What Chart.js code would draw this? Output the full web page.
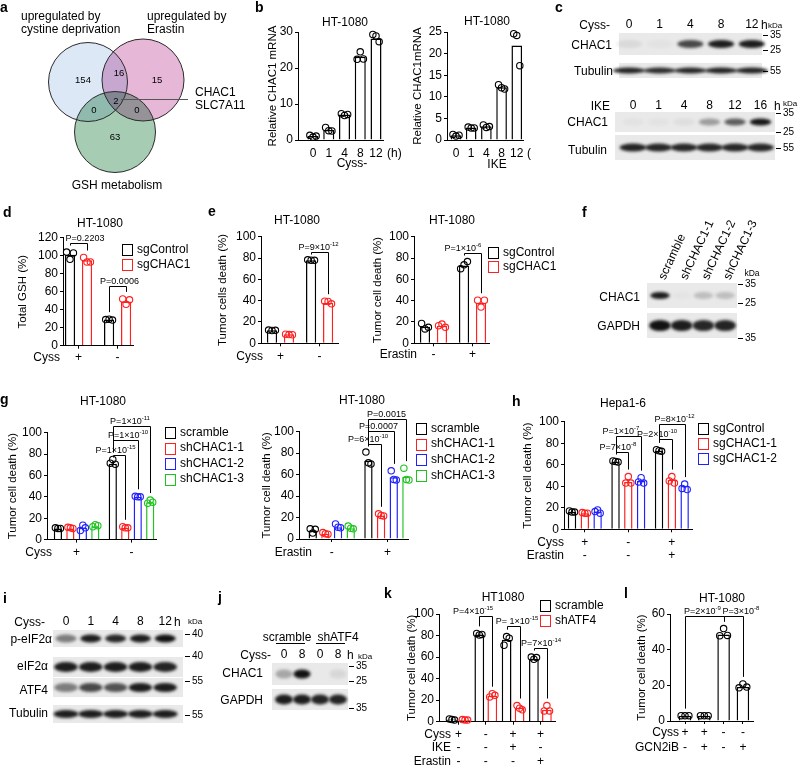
<!DOCTYPE html>
<html>
<head>
<meta charset="utf-8">
<title>CHAC1 figure</title>
<script src="https://cdn.jsdelivr.net/npm/chart.js@4.4.1/dist/chart.umd.min.js"></script>
<style>
  body { margin: 0; background: #fff; }
  #fig { position: relative; width: 800px; height: 767px; overflow: hidden; background: #fff;
         font-family: Arial, "Liberation Sans", Helvetica, sans-serif; color: #000; }
  #fig canvas { position: absolute; }
  .t { position: absolute; white-space: nowrap; }
  .box { position: absolute; box-sizing: border-box; border: 1.5px solid #000; background: #fff; }
  .dash { position: absolute; height: 1px; background: #000; }
</style>
</head>
<body>
<div id="fig"></div>
<script>
// ---------- data ----------
// a: Venn
const vennSetNames = [['upregulated by', 'cystine deprivation'], ['upregulated by', 'Erastin'], ['GSH metabolism']];
const vennCounts = [154, 16, 15, 2, 0, 0, 63]; // A, AB, B, ABC, AC, BC, C
const vennShared = ['CHAC1', 'SLC7A11'];

// b: relative CHAC1 mRNA
const bTimes = ['0', '1', '4', '8', '12'];
const bCyssMean = [1.1, 2.8, 7.1, 23.1, 28.2];
const bCyssReps = [[1.3, 0.8, 1.1], [3.5, 2.6, 2.5], [7.3, 6.8, 7.1], [22.4, 24.5, 22.5], [29.3, 28.9, 27.3]];
const bIkeMean = [1.1, 2.9, 3.2, 12.2, 21.9];
const bIkeReps = [[1.3, 0.9, 1.1], [3.0, 2.8, 2.8], [3.5, 2.9, 3.1], [12.8, 12.1, 11.8], [24.6, 24.2, 17.2]];

// d: total GSH
const sgSeries = ['sgControl', 'sgCHAC1'];
const dCyss = ['+', '-'];
const dMean = [[101, 29], [95, 49]];
const dReps = [[[104, 96, 103], [29, 29.5, 28.5]], [[98, 93, 93], [52, 46, 51]]];
const dPairs = [[0, 1, 'P=0.2203'], [2, 3, 'P=0.0006']];

// e: tumor cell death, sgCHAC1
const eCyss = ['+', '-'];
const eCyssMean = [[12.2, 78], [8.4, 38]];
const eCyssReps = [[[12.4, 12.0, 12.2], [78.3, 78.0, 77.8]], [[8.6, 8.2, 8.0], [39.5, 39.2, 37.0]]];
const eCyssPairs = [[2, 3, 'P=9\u00d710', '-12']];
const eErastin = ['-', '+'];
const eErasMean = [[15.5, 73], [16.5, 38]];
const eErasReps = [[[18.6, 13.5, 15.0], [70.0, 73.6, 76.7]], [[16.5, 18.0, 15.0], [40.4, 34.0, 40.4]]];
const eErasPairs = [[2, 3, 'P=1\u00d710', '-6']];

// f: blot
const fLanes = ['scramble', 'shCHAC1-1', 'shCHAC1-2', 'shCHAC1-3'];
const fChac1 = [0.95, 0.02, 0.2, 0.2];
const fGapdh = [1.0, 0.95, 0.9, 0.92];

// g: shCHAC1
const shSeries = ['scramble', 'shCHAC1-1', 'shCHAC1-2', 'shCHAC1-3'];
const gCyss = ['+', '-'];
const gCyssMean = [[10.5, 71], [10.5, 11], [11, 40], [12.5, 35]];
const gCyssReps = [[[11, 10.5, 10.5], [71.5, 75, 70.5]], [[11.5, 11, 10.5], [12, 11, 11]],
                   [[8.5, 13.5, 11], [40.5, 40, 40]], [[12, 14, 13], [34, 37, 35]]];
const gCyssPairs = [[4, 5, 'P=1\u00d710', '-15'], [4, 6, 'P=1\u00d710', '-10'], [4, 7, 'P=1\u00d710', '-11']];
const gErastin = ['-', '+'];
const gErasMean = [[8, 73], [5, 22], [11, 57.5], [10, 58]];
const gErasReps = [[[9.5, 5.5, 9], [81, 71, 70]], [[6, 5, 4.5], [23.5, 22, 21.5]],
                   [[14, 11, 10.5], [63.5, 55.5, 55]], [[12, 10, 9.5], [66, 55.5, 55]]];
const gErasPairs = [[4, 5, 'P=6\u00d710', '-10'], [4, 6, 'P=0.0007'], [4, 7, 'P=0.0015']];

// h: Hepa1-6
const hSeries = ['sgControl', 'sgCHAC1-1', 'sgCHAC1-2'];
const hCyss = ['+', '-', '+'];
const hErastin = ['-', '-', '+'];
const hMean = [[16, 63, 73], [15, 44, 46], [16.5, 45, 40.5]];
const hReps = [[[17, 16, 16], [63.5, 63, 62.5], [74, 73, 72.5]],
               [[15.5, 15, 15], [43, 49, 43], [45, 49, 43]],
               [[16.5, 18, 15], [44, 48, 43], [38, 42, 37]]];
const hPairs = [[3, 4, 'P=7\u00d710', '-8'], [3, 5, 'P=1\u00d710', '-7'], [6, 7, 'P=2\u00d710', '-10'], [6, 8, 'P=8\u00d710', '-12']];

// c, i, j: blots (band intensity 0..1)
const cCyssLanes = ['0', '1', '4', '8', '12'];
const cCyssChac1 = [0.07, 0.03, 0.75, 0.95, 0.95];
const cCyssTubulin = [0.92, 0.88, 0.9, 0.92, 0.92];
const cIkeLanes = ['0', '1', '4', '8', '12', '16'];
const cIkeChac1 = [0.03, 0.03, 0.05, 0.35, 0.65, 0.98];
const cIkeTubulin = [0.92, 0.9, 0.9, 0.9, 0.9, 0.9];
const iLanes = ['0', '1', '4', '8', '12'];
const iPeif2a = [0.5, 0.95, 0.9, 0.95, 1.0];
const iEif2a = [0.95, 0.95, 0.95, 0.95, 0.92];
const iAtf4 = [0.5, 0.75, 0.7, 0.95, 0.95];
const iTubulin = [0.95, 0.95, 0.95, 0.95, 0.95];
const jGroups = ['scramble', 'shATF4'];
const jLanes = ['0', '8', '0', '8'];
const jChac1 = [0.3, 1.0, 0.0, 0.08];
const jGapdh = [0.95, 0.95, 0.92, 0.92];

// k: shATF4
const kSeries = ['scramble', 'shATF4'];
const kCyss = ['+', '-', '+', '+'];
const kIke = ['-', '-', '+', '-'];
const kErastin = ['-', '-', '-', '+'];
const kMean = [[2, 81, 76, 58.5], [1.5, 24, 13, 11]];
const kReps = [[[2.6, 2, 1.5], [82, 80.5, 81], [71, 79, 77.5], [60, 58, 59.5]],
               [[2, 1.5, 1.5], [23, 26, 24.5], [15, 12.5, 11], [10, 15, 10]]];
const kPairs = [[2, 3, 'P=4\u00d710', '-15'], [4, 5, 'P= 1\u00d710', '-15'], [6, 7, 'P=7\u00d710', '-14']];

// l: GCN2iB
const lCyss = ['+', '+', '-', '-'];
const lGcn2ib = ['-', '+', '-', '+'];
const lMean = [3, 3, 48.5, 19];
const lReps = [[3, 3, 3], [3, 3, 3], [47.8, 51.8, 48], [18.6, 20.8, 19]];
const lPairs = [[0, 2, 'P=2\u00d710', '-9'], [2, 3, 'P=3\u00d710', '-8']];

// ---------- helpers ----------
const FONT = 'Arial, "Liberation Sans", Helvetica, sans-serif';
const BLACK = '#000000', RED = '#ff2020', BLUE = '#2020ff', GREEN = '#1ec31e';
Chart.defaults.font.family = FONT;
Chart.defaults.color = BLACK;

const fig = document.getElementById('fig');

function txt(x, y, s, o = {}) {
  const size = o.size || 12;
  const d = document.createElement('div');
  d.className = 't';
  d.textContent = s;
  d.style.fontSize = size + 'px';
  d.style.lineHeight = size + 'px';
  if (o.bold) d.style.fontWeight = 'bold';
  d.style.left = x + 'px';
  d.style.top = (o.base ? y - 0.85 * size : y - 0.53 * size) + 'px';
  const a = o.align || 'l';
  if (a === 'c') d.style.transform = 'translateX(-50%)';
  if (a === 'r') d.style.transform = 'translateX(-100%)';
  fig.appendChild(d);
  return d;
}

function dash(x, y, w) {
  const d = document.createElement('div');
  d.className = 'dash';
  d.style.left = x + 'px'; d.style.top = y + 'px'; d.style.width = w + 'px';
  fig.appendChild(d);
}

function marker(x, y, s) { dash(x, Math.round(y), 5); txt(x + 7, y, s, { size: 10 }); }

function legend(x, y0, step, names, colors) {
  names.forEach((n, i) => {
    const y = y0 + i * step;
    const b = document.createElement('div');
    b.className = 'box';
    b.style.left = x + 'px'; b.style.top = (y - 5) + 'px';
    b.style.width = '11px'; b.style.height = '12px';
    b.style.borderColor = colors[i];
    fig.appendChild(b);
    txt(x + 15, y, n);
  });
}

function mkCanvas(x, y, w, h) {
  const c = document.createElement('canvas');
  c.width = w; c.height = h;
  c.style.left = x + 'px'; c.style.top = y + 'px';
  c.style.width = w + 'px'; c.style.height = h + 'px';
  fig.appendChild(c);
  return c;
}

// bar chart with replicate dots, brackets and condition rows
function barPanel(p) {
  const ns = p.mean.length, ng = p.mean[0].length, step = p.groupStep || 1;
  const bars = [], barCol = [], pts = [], ptCol = [], tops = [];
  for (let g = 0; g < ng; g++) {
    for (let s = 0; s < ns; s++) {
      const x = g * step + s, r = p.reps[s][g];
      bars.push({ x: x, y: p.mean[s][g] });
      barCol.push(p.colors[s]);
      r.forEach((v, k) => {
        pts.push({ x: x + (k - (r.length - 1) / 2) * 0.2, y: v });
        ptCol.push(p.colors[s]);
      });
      tops.push(Math.max(p.mean[s][g], ...r));
    }
  }
  const barX = i => Math.floor(i / ns) * step + (i % ns);
  const centers = [];
  for (let g = 0; g < ng; g++) centers.push(g * step + (ns - 1) / 2);

  const [al, at, ar, ab] = p.area;
  const cx = Math.round(p.titleX - 7), cy = p.top;
  const cw = p.right - cx, ch = p.bottom - cy;
  const cv = mkCanvas(cx, cy, cw, ch);
  const axisGrid = { display: true, drawOnChartArea: false, drawTicks: true, tickLength: 3,
                     color: BLACK, lineWidth: 1, offset: false };
  const axisBorder = { display: true, color: BLACK, width: 1 };

  new Chart(cv, {
    type: 'bar',
    data: {
      datasets: [
        { type: 'scatter', data: pts, order: 0, clip: false, pointStyle: 'circle',
          pointRadius: 3.2, pointBorderWidth: 1.1, pointBorderColor: ptCol,
          pointBackgroundColor: 'rgba(255,255,255,0)' },
        { type: 'bar', data: bars, order: 1, backgroundColor: '#ffffff', borderColor: barCol,
          borderWidth: 1.5, barPercentage: p.barPct || 0.65, categoryPercentage: 1 },
      ],
    },
    options: {
      responsive: false, animation: false, devicePixelRatio: 1, events: [],
      layout: { padding: { left: 0, top: at - cy, right: cx + cw - ar, bottom: 0 } },
      plugins: { legend: { display: false }, tooltip: { enabled: false } },
      scales: {
        x: {
          type: 'linear', offset: false,
          min: (al - p.x0) / p.dx, max: (ar - p.x0) / p.dx,
          afterBuildTicks: s => { s.ticks = centers.map(v => ({ value: v })); },
          afterFit: s => { s.height = cy + ch - ab; },
          grid: p.xLabels ? { display: false, drawTicks: false } : axisGrid,
          border: axisBorder,
          ticks: p.xLabels
            ? { display: true, autoSkip: false, maxRotation: 0, padding: 6, font: { size: 12 }, color: BLACK,
                callback: (v, i) => p.xLabels[i] }
            : { display: false },
        },
        y: {
          min: 0, max: p.yMax,
          afterFit: s => { s.width = al - cx; },
          grid: axisGrid, border: axisBorder,
          ticks: { stepSize: p.yStep, font: { size: 12 }, color: BLACK, padding: 2 },
          title: { display: true, text: p.yTitle, font: { size: 11.5 }, color: BLACK, padding: 0 },
        },
      },
    },
    plugins: [{
      id: 'extras',
      afterDraw(chart) {
        const ctx = chart.ctx, xs = chart.scales.x, ys = chart.scales.y;
        ctx.save();
        ctx.fillStyle = BLACK; ctx.strokeStyle = BLACK; ctx.lineWidth = 1;
        (p.rows || []).forEach(row => {
          const y = row.y - cy;
          ctx.font = `12px ${FONT}`; ctx.textBaseline = 'middle';
          ctx.textAlign = 'right';
          ctx.fillText(row.label, p.rowLabelX - cx, y);
          ctx.textAlign = 'center';
          row.signs.forEach((s, g) => ctx.fillText(s, xs.getPixelForValue(centers[g]), y));
        });
        (p.pairs || []).forEach((pr, n) => {
          const [a, b, base, sup] = pr;
          const xa = Math.round(xs.getPixelForValue(barX(a))) + 0.5;
          const xb = Math.round(xs.getPixelForValue(barX(b))) + 0.5;
          const yl = Math.round(ys.getPixelForValue(p.levels[n])) + 0.5;
          const ya = Math.max(yl + 2, ys.getPixelForValue(tops[a]) - 7);
          const yb = Math.max(yl + 2, ys.getPixelForValue(tops[b]) - 7);
          ctx.beginPath();
          ctx.moveTo(xa, ya); ctx.lineTo(xa, yl); ctx.lineTo(xb, yl); ctx.lineTo(xb, yb);
          ctx.stroke();
          ctx.textAlign = 'left'; ctx.textBaseline = 'alphabetic';
          ctx.font = `9px ${FONT}`;
          const w1 = ctx.measureText(base).width;
          ctx.font = `6px ${FONT}`;
          const w2 = sup ? ctx.measureText(sup).width : 0;
          const shift = p.labelDx ? p.labelDx[n] : 0;
          const x0 = (xa + xb) / 2 + shift - (w1 + w2) / 2, y0 = yl - 3;
          ctx.font = `9px ${FONT}`;
          ctx.fillText(base, x0, y0);
          if (sup) { ctx.font = `6px ${FONT}`; ctx.fillText(sup, x0 + w1, y0 - 4); }
        });
        ctx.restore();
      },
    }],
  });
}

// western blot drawn on a hidden linear lane scale
function blotPanel(p) {
  const [cx, cy, cw, ch] = p.canvas;
  const cv = mkCanvas(cx, cy, cw, ch);
  new Chart(cv, {
    type: 'scatter',
    data: { datasets: [{ data: [] }] },
    options: {
      responsive: false, animation: false, devicePixelRatio: 1, events: [],
      layout: { padding: { left: p.box[0] - cx, right: cx + cw - p.box[1], top: 0, bottom: 0 } },
      plugins: { legend: { display: false }, tooltip: { enabled: false } },
      scales: {
        x: { type: 'linear', display: false, min: (p.box[0] - p.x0) / p.dx, max: (p.box[1] - p.x0) / p.dx },
        y: { type: 'linear', display: false, min: 0, max: 1 },
      },
    },
    plugins: [{
      id: 'blot',
      afterDraw(chart) {
        const ctx = chart.ctx, xs = chart.scales.x;
        const L = chart.chartArea.left, R = chart.chartArea.right;
        ctx.save();
        p.rows.forEach(r => {
          ctx.fillStyle = r.bg || '#e9e9e9';
          ctx.fillRect(L, r.y0 - cy, R - L, r.y1 - r.y0);
          const yc = (r.y0 + r.y1) / 2 - cy;
          r.vals.forEach((v, i) => {
            if (v <= 0) return;
            const x = xs.getPixelForValue(i);
            const w = Math.abs(xs.getPixelForValue(i + (r.bw || 0.85)) - x);
            ctx.save();
            ctx.filter = 'blur(1.4px)';
            ctx.fillStyle = `rgba(18,18,18,${v})`;
            ctx.beginPath();
            ctx.ellipse(x, yc, w / 2, r.bh / 2, 0, 0, Math.PI * 2);
            ctx.fill();
            ctx.restore();
          });
        });
        ctx.fillStyle = BLACK; ctx.font = `12px ${FONT}`; ctx.textBaseline = 'middle';
        p.lanes.forEach((s, i) => {
          const x = xs.getPixelForValue(i);
          if (p.rot) {
            ctx.save();
            ctx.translate(x + 2, p.laneY - cy);
            ctx.rotate(-p.rot * Math.PI / 180);
            ctx.textAlign = 'left';
            ctx.fillText(s, 0, 0);
            ctx.restore();
          } else {
            ctx.textAlign = 'center';
            ctx.fillText(s, x, p.laneY - cy);
          }
        });
        ctx.restore();
      },
    }],
  });
}

// Venn diagram on a pixel-unit scatter scale
function vennPanel(p) {
  const cv = mkCanvas(0, 0, 240, 200);
  new Chart(cv, {
    type: 'scatter',
    data: { datasets: [{ data: [] }] },
    options: {
      responsive: false, animation: false, devicePixelRatio: 1, events: [],
      plugins: { legend: { display: false }, tooltip: { enabled: false } },
      scales: {
        x: { type: 'linear', display: false, min: 0, max: 240 },
        y: { type: 'linear', display: false, min: 0, max: 200, reverse: true },
      },
    },
    plugins: [{
      id: 'venn',
      afterDraw(chart) {
        const ctx = chart.ctx, xs = chart.scales.x, ys = chart.scales.y;
        const px = v => xs.getPixelForValue(v), py = v => ys.getPixelForValue(v);
        ctx.save();
        ctx.globalCompositeOperation = 'multiply';
        p.circles.forEach(c => {
          ctx.beginPath();
          ctx.arc(px(c.x), py(c.y), px(c.x + c.r) - px(c.x), 0, Math.PI * 2);
          ctx.fillStyle = c.fill;
          ctx.fill();
        });
        ctx.globalCompositeOperation = 'source-over';
        ctx.strokeStyle = '#2a2a2a'; ctx.lineWidth = 1;
        p.circles.forEach(c => {
          ctx.beginPath();
          ctx.arc(px(c.x), py(c.y), px(c.x + c.r) - px(c.x), 0, Math.PI * 2);
          ctx.stroke();
        });
        ctx.strokeStyle = '#555';
        ctx.beginPath();
        ctx.moveTo(px(p.line[0]), py(p.line[2]) + 0.5);
        ctx.lineTo(px(p.line[1]), py(p.line[2]) + 0.5);
        ctx.stroke();
        ctx.fillStyle = BLACK; ctx.font = `9.5px ${FONT}`;
        ctx.textAlign = 'center'; ctx.textBaseline = 'middle';
        vennCounts.forEach((n, i) => ctx.fillText(String(n), px(p.spots[i][0]), py(p.spots[i][1])));
        ctx.restore();
      },
    }],
  });
}

// ---------- panel a ----------
vennPanel({
  circles: [
    { x: 88, y: 82, r: 39.5, fill: '#dce8f5' },
    { x: 143, y: 80, r: 41, fill: '#e7b7d8' },
    { x: 115, y: 132, r: 40.5, fill: '#a6cdb4' },
  ],
  spots: [[83, 80], [119, 73], [157, 80], [116, 101], [94, 110], [137, 110], [115, 137]],
  line: [121, 188, 99],
});
txt(21, 16, vennSetNames[0][0]); txt(21, 29, vennSetNames[0][1]);
txt(147, 16, vennSetNames[1][0]); txt(147, 29, vennSetNames[1][1]);
txt(117, 185, vennSetNames[2][0], { align: 'c' });
txt(195, 92, vennShared[0]); txt(195, 105, vennShared[1]);

// ---------- panel b ----------
barPanel({
  mean: [bCyssMean], reps: [bCyssReps], colors: [BLACK], xLabels: bTimes,
  area: [298, 32, 383, 140], x0: 313, dx: 15.75, barPct: 0.7,
  yMax: 30, yStep: 10, yTitle: 'Relative CHAC1 mRNA', titleX: 273,
  top: 12, bottom: 172, right: 390,
});
barPanel({
  mean: [bIkeMean], reps: [bIkeReps], colors: [BLACK], xLabels: bTimes,
  area: [447, 32, 524, 140], x0: 456, dx: 15.2, barPct: 0.7,
  yMax: 25, yStep: 5, yTitle: 'Relative CHAC1mRNA', titleX: 418,
  top: 12, bottom: 172, right: 530,
});
txt(345, 22, 'HT-1080', { align: 'c' });
txt(487, 21, 'HT-1080', { align: 'c' });
txt(387, 153, '(h)');
txt(527, 153, '(');
txt(352, 163, 'Cyss-', { align: 'c' });
txt(497, 164, 'IKE', { align: 'c' });

// ---------- panel c ----------
blotPanel({
  canvas: [612, 15, 158, 70], box: [619, 762], x0: 629, dx: 30.7, lanes: cCyssLanes, laneY: 25,
  rows: [{ vals: cCyssChac1, y0: 33, y1: 55, bh: 8 }, { vals: cCyssTubulin, y0: 63, y1: 78, bh: 6, bw: 1.05 }],
});
txt(610, 25, 'Cyss-', { align: 'r' }); txt(761, 25, 'h'); txt(768, 26, 'kDa', { size: 8 });
txt(612, 45, 'CHAC1', { align: 'r' }); txt(613, 71, 'Tubulin', { align: 'r' });
marker(763, 35, '35'); marker(763, 50, '25'); marker(763, 71, '55');

blotPanel({
  canvas: [612, 96, 166, 66], box: [615, 775], x0: 633, dx: 25.5, lanes: cIkeLanes, laneY: 106,
  rows: [{ vals: cIkeChac1, y0: 112, y1: 132, bh: 7 }, { vals: cIkeTubulin, y0: 135, y1: 160, bh: 8, bw: 1.05 }],
});
txt(610, 106, 'IKE', { align: 'r' }); txt(774, 106, 'h'); txt(783, 104, 'kDa', { size: 8 });
txt(608, 122, 'CHAC1', { align: 'r' }); txt(607, 150, 'Tubulin', { align: 'r' });
marker(776, 113, '35'); marker(776, 132, '25'); marker(776, 148, '55');

// ---------- panel d ----------
barPanel({
  mean: dMean, reps: dReps, colors: [BLACK, RED], groupStep: 2.3,
  area: [63, 237.7, 133, 345.7], x0: 70, dx: 17, barPct: 0.6,
  yMax: 120, yStep: 20, yTitle: 'Total GSH (%)', titleX: 23,
  rows: [{ label: 'Cyss', signs: dCyss, y: 358 }], rowLabelX: 60,
  pairs: dPairs, levels: [114, 66], labelDx: [6, 1.5],
  top: 200, bottom: 372, right: 140,
});
txt(100, 223, 'HT-1080', { align: 'c' });
legend(122, 249, 15, sgSeries, [BLACK, RED]);

// ---------- panel e ----------
barPanel({
  mean: eCyssMean, reps: eCyssReps, colors: [BLACK, RED], groupStep: 2.3,
  area: [261, 236.7, 338, 343.3], x0: 272, dx: 17, barPct: 0.6,
  yMax: 100, yStep: 20, yTitle: 'Tumor cells death (%)', titleX: 223,
  rows: [{ label: 'Cyss', signs: eCyss, y: 357 }], rowLabelX: 263,
  pairs: eCyssPairs, levels: [86], labelDx: [-1.5],
  top: 200, bottom: 372, right: 345,
});
barPanel({
  mean: eErasMean, reps: eErasReps, colors: [BLACK, RED], groupStep: 2.3,
  area: [414, 236.7, 490, 343.3], x0: 425, dx: 17, barPct: 0.6,
  yMax: 100, yStep: 20, yTitle: 'Tumor cell death (%)', titleX: 378,
  rows: [{ label: 'Erastin', signs: eErastin, y: 355 }], rowLabelX: 417,
  pairs: eErasPairs, levels: [85], labelDx: [-10],
  top: 200, bottom: 372, right: 495,
});
txt(297, 220, 'HT-1080', { align: 'c' });
txt(452, 220, 'HT-1080', { align: 'c' });
legend(488, 252, 14, sgSeries, [BLACK, RED]);

// ---------- panel f ----------
blotPanel({
  canvas: [640, 210, 130, 135], box: [647, 737], x0: 660, dx: 21.7, lanes: fLanes, laneY: 279, rot: 65,
  rows: [{ vals: fChac1, y0: 283, y1: 308, bh: 7, bw: 0.9 }, { vals: fGapdh, y0: 313, y1: 338, bh: 11, bw: 1.0 }],
});
txt(752, 274, 'kDa', { size: 8.5, align: 'c' });
txt(640, 297, 'CHAC1', { align: 'r' }); txt(640, 326, 'GAPDH', { align: 'r' });
marker(738, 284, '35'); marker(738, 303, '25'); marker(738, 338, '35');

// ---------- panel g ----------
barPanel({
  mean: gCyssMean, reps: gCyssReps, colors: [BLACK, RED, BLUE, GREEN], groupStep: 4.4,
  area: [47, 432.7, 158, 539.6], x0: 58, dx: 12.6, barPct: 0.66,
  yMax: 100, yStep: 20, yTitle: 'Tumor cell death (%)', titleX: 13,
  rows: [{ label: 'Cyss', signs: gCyss, y: 553 }], rowLabelX: 52,
  pairs: gCyssPairs, levels: [79, 93, 106], labelDx: [-4, 2, -2],
  top: 405, bottom: 565, right: 162,
});
barPanel({
  mean: gErasMean, reps: gErasReps, colors: [BLACK, RED, BLUE, GREEN], groupStep: 4.4,
  area: [299, 431.7, 411, 539], x0: 313, dx: 12.9, barPct: 0.66,
  yMax: 100, yStep: 20, yTitle: 'Tumor cell death (%)', titleX: 267,
  rows: [{ label: 'Erastin', signs: gErastin, y: 553 }], rowLabelX: 312,
  pairs: gErasPairs, levels: [89, 101, 112], labelDx: [-7, -3, -1],
  top: 405, bottom: 565, right: 414,
});
txt(103, 401, 'HT-1080', { align: 'c' });
txt(362, 400, 'HT-1080', { align: 'c' });
legend(165, 432, 15.6, shSeries, [BLACK, RED, BLUE, GREEN]);
legend(416, 428, 15.7, shSeries, [BLACK, RED, BLUE, GREEN]);

// ---------- panel h ----------
barPanel({
  mean: hMean, reps: hReps, colors: [BLACK, RED, BLUE], groupStep: 3.4,
  area: [564, 421.7, 692, 529.3], x0: 572, dx: 12.8, barPct: 0.66,
  yMax: 100, yStep: 20, yTitle: 'Tumor cell death (%)', titleX: 528,
  rows: [{ label: 'Cyss', signs: hCyss, y: 543 }, { label: 'Erastin', signs: hErastin, y: 556 }], rowLabelX: 564,
  pairs: hPairs, levels: [72, 87, 84, 97.5], labelDx: [-4.5, -8, -9, 2],
  top: 405, bottom: 565, right: 698,
});
txt(623, 403, 'Hepa1-6', { align: 'c' });
legend(698, 428, 15, hSeries, [BLACK, RED, BLUE]);

// ---------- panel i ----------
blotPanel({
  canvas: [50, 612, 140, 115], box: [53, 183], x0: 66, dx: 24.8, lanes: iLanes, laneY: 622,
  rows: [
    { vals: iPeif2a, y0: 630, y1: 647, bh: 8 },
    { vals: iEif2a, y0: 657, y1: 677, bh: 10, bw: 0.95 },
    { vals: iAtf4, y0: 678, y1: 697, bh: 9, bw: 0.95 },
    { vals: iTubulin, y0: 705, y1: 723, bh: 8, bw: 1.0 },
  ],
});
txt(45, 622, 'Cyss-', { align: 'r' }); txt(174, 622, 'h'); txt(188, 622, 'kDa', { size: 8 });
txt(52, 639, 'p-eIF2\u03b1', { align: 'r' }); txt(48, 666, 'eIF2\u03b1', { align: 'r' });
txt(48, 690, 'ATF4', { align: 'r' }); txt(48, 713, 'Tubulin', { align: 'r' });
marker(185, 634, '40'); marker(185, 656, '40'); marker(185, 681, '55'); marker(185, 715, '55');

// ---------- panel j ----------
blotPanel({
  canvas: [270, 646, 85, 66], box: [272, 348], x0: 284, dx: 18, lanes: jLanes, laneY: 655,
  rows: [{ vals: jChac1, y0: 663, y1: 685, bh: 9, bw: 0.95 }, { vals: jGapdh, y0: 689, y1: 710, bh: 10, bw: 1.0 }],
});
txt(287, 637, jGroups[0], { align: 'c' }); txt(338, 637, jGroups[1], { align: 'c' });
dash(276, 643, 29); dash(316, 643, 29);
txt(271, 655, 'Cyss-', { align: 'r' }); txt(347, 655, 'h'); txt(358, 657, 'kDa', { size: 8 });
txt(263, 673, 'CHAC1', { align: 'r' }); txt(263, 700, 'GAPDH', { align: 'r' });
marker(349, 666, '35'); marker(349, 681, '25'); marker(349, 708, '35');

// ---------- panel k ----------
barPanel({
  mean: kMean, reps: kReps, colors: [BLACK, RED], groupStep: 2.1,
  area: [439, 614, 555, 721.7], x0: 452, dx: 13, barPct: 0.75,
  yMax: 100, yStep: 20, yTitle: 'Tumor cell death (%)', titleX: 412,
  rows: [{ label: 'Cyss', signs: kCyss, y: 735 }, { label: 'IKE', signs: kIke, y: 748 },
         { label: 'Erastin', signs: kErastin, y: 762 }], rowLabelX: 451,
  pairs: kPairs, levels: [98, 89, 68], labelDx: [-13, 3, 0],
  top: 600, bottom: 767, right: 566,
});
txt(503, 597, 'HT1080', { align: 'c' });
legend(540, 605, 15, kSeries, [BLACK, RED]);

// ---------- panel l ----------
barPanel({
  mean: [lMean], reps: [lReps], colors: [BLACK],
  area: [670, 614, 753, 721], x0: 685, dx: 19.3, barPct: 0.65,
  yMax: 60, yStep: 20, yTitle: 'Tumor cell death (%)', titleX: 642,
  rows: [{ label: 'Cyss', signs: lCyss, y: 733 }, { label: 'GCN2iB', signs: lGcn2ib, y: 748 }], rowLabelX: 679,
  pairs: lPairs, levels: [58.7, 58.7], labelDx: [-2.5, 7],
  top: 600, bottom: 767, right: 762,
});
txt(722, 598, 'HT-1080', { align: 'c' });

// ---------- panel letters ----------
[['a', 0, 12], ['b', 255, 12], ['c', 555, 12], ['d', 3, 217], ['e', 208, 216], ['f', 582, 217],
 ['g', 0, 404], ['h', 512, 406], ['i', 3, 603], ['j', 218, 602], ['k', 384, 598], ['l', 624, 598]]
  .forEach(([s, x, y]) => txt(x, y, s, { bold: true, size: 14, base: true }));
</script>
</body>
</html>
